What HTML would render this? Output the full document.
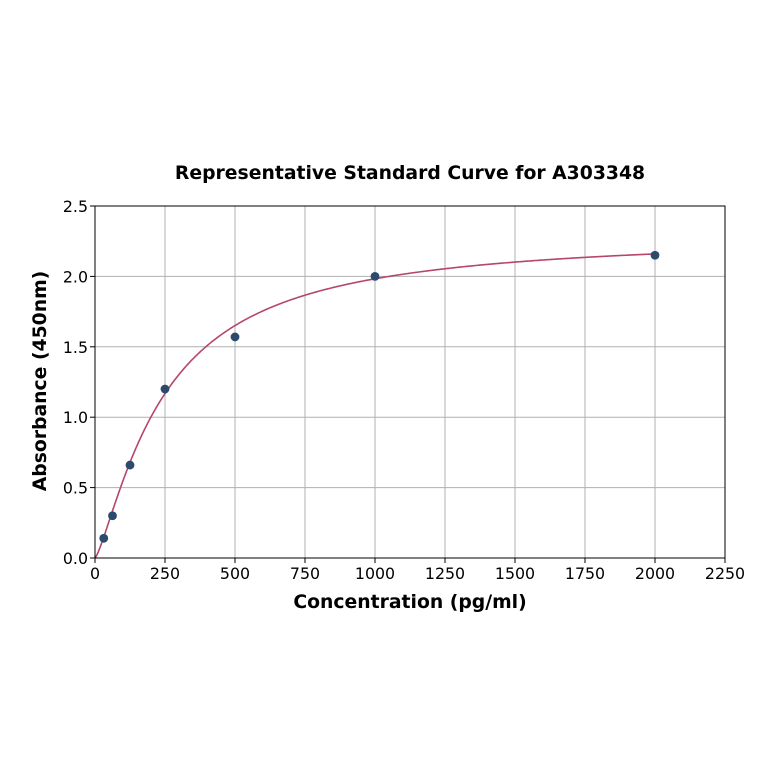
<!DOCTYPE html>
<html><head><meta charset="utf-8"><style>
body{margin:0;background:#fff;}
text{font-family:"DejaVu Sans","Liberation Sans",sans-serif;}
</style></head><body>
<svg id="chart" width="764" height="764" xmlns="http://www.w3.org/2000/svg">
<rect width="764" height="764" fill="#fff"/>
<text x="410" y="179" text-anchor="middle" font-size="18.8" font-weight="bold">Representative Standard Curve for A303348</text>
<g id="grid"></g><g id="curve"></g><g id="points"></g><g id="axes"></g>
<text x="410" y="608" text-anchor="middle" font-size="18.8" font-weight="bold">Concentration (pg/ml)</text>
<text transform="translate(46,381) rotate(-90)" text-anchor="middle" font-size="18.8" font-weight="bold">Absorbance (450nm)</text>
</svg>
<script>
const concentrations=[31.25,62.5,125,250,500,1000,2000];
const absorbances=[0.14,0.3,0.66,1.2,1.57,2.0,2.15];
const xTicks=[0,250,500,750,1000,1250,1500,1750,2000,2250];
const yTicks=[0.0,0.5,1.0,1.5,2.0,2.5];
const fitParams=[0,2.3,244,1.3]; // a,d,c,b
const L=95,R=725,T=206,B=558,XMAX=2250,YMAX=2.5;
const sx=v=>L+v/XMAX*(R-L), sy=v=>B-v/YMAX*(B-T);
const NS="http://www.w3.org/2000/svg";
function mk(tag,attrs,parent){const e=document.createElementNS(NS,tag);for(const k in attrs)e.setAttribute(k,attrs[k]);document.getElementById(parent).appendChild(e);return e;}
xTicks.forEach(t=>{
 const g=mk('line',{x1:sx(t),x2:sx(t),y1:T,y2:B,stroke:'#b0b0b0','stroke-width':1},'grid');
 
 
 const tk=mk('line',{x1:sx(t),x2:sx(t),y1:B,y2:B+5,stroke:'#000'},'axes');
 
 
 const tx=mk('text',{x:sx(t),y:B+21,'text-anchor':'middle','font-size':15.8},'axes');
 tx.textContent=t;
 
 
});
yTicks.forEach(t=>{
 const g=mk('line',{x1:L,x2:R,y1:sy(t),y2:sy(t),stroke:'#b0b0b0','stroke-width':1},'grid');
 
 
 const tk=mk('line',{x1:L-5,x2:L,y1:sy(t),y2:sy(t),stroke:'#000'},'axes');
 
 
 const tx=mk('text',{x:L-7,y:sy(t)+6,'text-anchor':'end','font-size':15.8},'axes');
 tx.textContent=t.toFixed(1);
 
 
});
const fr=mk('rect',{x:L,y:T,width:R-L,height:B-T,fill:'none',stroke:'#000','stroke-width':1},'axes');


const [a,d,c,b]=fitParams;
let p='';
for(let i=0;i<=400;i++){const x=i/400*2000;const r=Math.pow(x/c,b);const y=a+(d-a)*r/(1+r);p+=(i?'L':'M')+sx(x).toFixed(2)+' '+sy(y).toFixed(2);}
const cv=mk('path',{d:p,fill:'none',stroke:'#b5476a','stroke-width':1.6},'curve');


concentrations.forEach((x,i)=>{
 const pt=mk('circle',{cx:sx(x),cy:sy(absorbances[i]),r:4.4,fill:'#2b4a6e'},'points');
 
 
});
</script>
</body></html>
